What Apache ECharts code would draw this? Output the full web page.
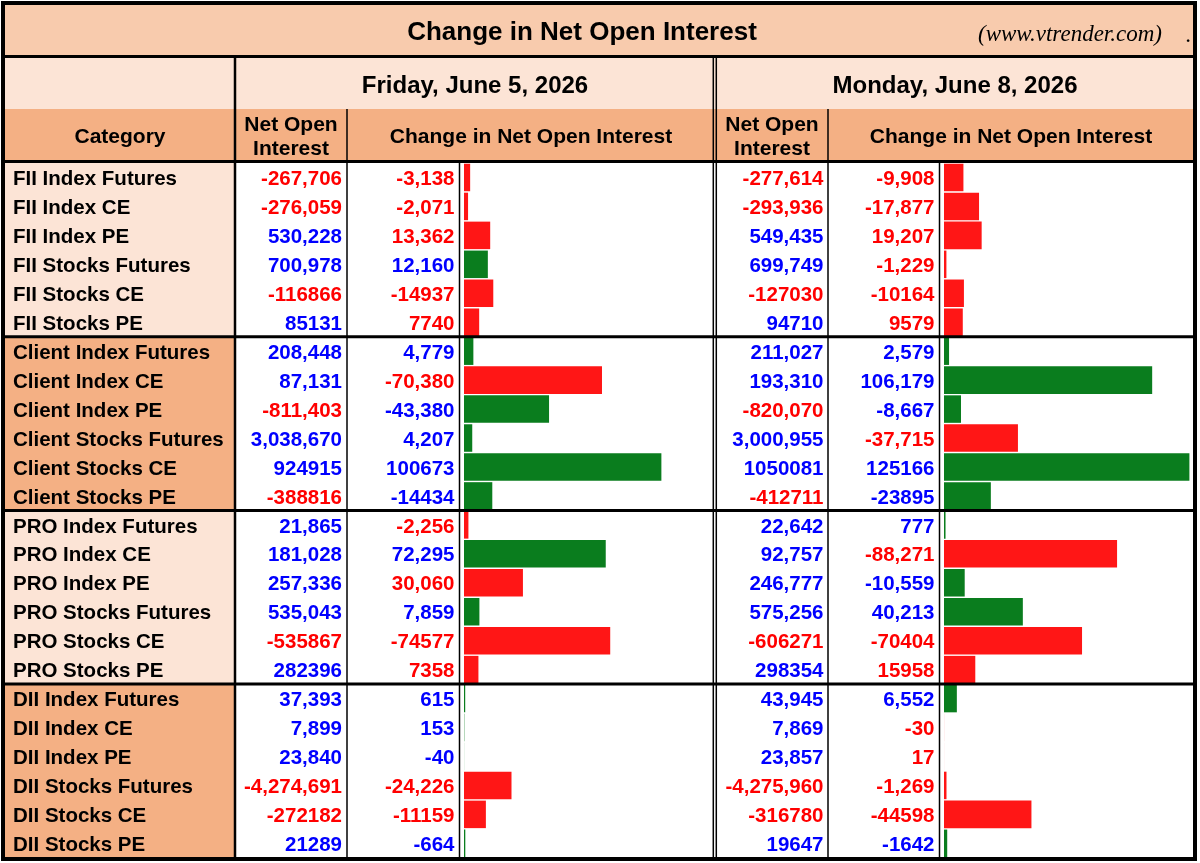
<!DOCTYPE html>
<html>
<head>
<meta charset="utf-8">
<title>Change in Net Open Interest</title>
<script src="https://cdn.jsdelivr.net/npm/echarts@6/dist/echarts.min.js"></script>
<style>
    html, body { margin: 0; padding: 0; background: #fff; }
    #chart { width: 1200px; height: 863px; }
</style>
</head>
<body>
<div id="chart"></div>
<script>
// 数据
var categories = [
    'FII Index Futures', 'FII Index CE', 'FII Index PE', 'FII Stocks Futures', 'FII Stocks CE', 'FII Stocks PE',
    'Client Index Futures', 'Client Index CE', 'Client Index PE', 'Client Stocks Futures', 'Client Stocks CE', 'Client Stocks PE',
    'PRO Index Futures', 'PRO Index CE', 'PRO Index PE', 'PRO Stocks Futures', 'PRO Stocks CE', 'PRO Stocks PE',
    'DII Index Futures', 'DII Index CE', 'DII Index PE', 'DII Stocks Futures', 'DII Stocks CE', 'DII Stocks PE'
];
var netOiFri = [-267706, -276059, 530228, 700978, -116866, 85131,
    208448, 87131, -811403, 3038670, 924915, -388816,
    21865, 181028, 257336, 535043, -535867, 282396,
    37393, 7899, 23840, -4274691, -272182, 21289];
var changeFri = [-3138, -2071, 13362, 12160, -14937, 7740,
    4779, -70380, -43380, 4207, 100673, -14434,
    -2256, 72295, 30060, 7859, -74577, 7358,
    615, 153, -40, -24226, -11159, -664];
var netOiMon = [-277614, -293936, 549435, 699749, -127030, 94710,
    211027, 193310, -820070, 3000955, 1050081, -412711,
    22642, 92757, 246777, 575256, -606271, 298354,
    43945, 7869, 23857, -4275960, -316780, 19647];
var changeMon = [-9908, -17877, 19207, -1229, -10164, 9579,
    2579, 106179, -8667, -37715, 125166, -23895,
    777, -88271, -10559, 40213, -70404, 15958,
    6552, -30, 17, -1269, -44598, -1642];
var dayLabels = ['Friday, June 5, 2026', 'Monday, June 8, 2026'];
var barMax = 127000;

(function () {
    var FONT = '"Liberation Sans", Arial, sans-serif';
    var RED = '#ff0000', BLUE = '#0000ff';
    var BAR_RED = '#ff1616', BAR_GREEN = '#0a7d1e';
    var LIGHT = '#fce4d6', MID = '#f8cbad', DARK = '#f4b084';
    var TOP = 163, ROW_H = 28.95, N = categories.length;
    var BOTTOM = TOP + ROW_H * N;

    // Stocks CE/PE 行不带千分位
    function fmt(v, i) {
        var s = String(Math.abs(v));
        if (!/Stocks (CE|PE)$/.test(categories[i])) {
            s = s.replace(/\B(?=(\d{3})+(?!\d))/g, ',');
        }
        return (v < 0 ? '-' : '') + s;
    }
    // PE 反向：减少为看涨
    function bullish(v, i) {
        return (/PE$/.test(categories[i]) ? -v : v) > 0;
    }

    var graphics = [];
    function rect(x, y, w, h, fill) {
        graphics.push({ type: 'rect', z: -10, shape: { x: x, y: y, width: w, height: h }, style: { fill: fill } });
    }
    function line(x1, y1, x2, y2, w) {
        graphics.push({ type: 'line', z: 100, shape: { x1: x1, y1: y1, x2: x2, y2: y2 }, style: { stroke: '#000', lineWidth: w } });
    }
    function text(t, x, y, size, opts) {
        opts = opts || {};
        graphics.push({
            type: 'text', z: 100,
            style: {
                text: t, x: x, y: y + 2,
                fontSize: size, fontWeight: opts.weight || 'bold', fontStyle: opts.style || 'normal',
                fontFamily: opts.family || FONT, fill: '#000',
                align: opts.align || 'center', verticalAlign: 'middle', lineHeight: opts.lineHeight
            }
        });
    }

    // 背景
    rect(5, 5, 1188, 50, MID);
    rect(5, 58, 1188, 51, LIGHT);
    rect(5, 109, 1188, 51, DARK);
    for (var g = 0; g < 4; g++) {
        rect(5, TOP + g * 6 * ROW_H, 229, 6 * ROW_H, g % 2 ? DARK : LIGHT);
    }

    // 表格线
    line(5, 56.5, 1193, 56.5, 3);
    line(5, 161.5, 1193, 161.5, 3);
    for (var k = 1; k < 4; k++) {
        line(5, TOP + k * 6 * ROW_H, 1193, TOP + k * 6 * ROW_H, 3);
    }
    line(235, 58, 235, BOTTOM, 2.5);
    line(713.3, 58, 713.3, BOTTOM, 1.5);
    line(716.3, 58, 716.3, BOTTOM, 1.5);
    line(347, 109, 347, BOTTOM, 1.5);
    line(828, 109, 828, BOTTOM, 1.5);
    line(459.5, TOP, 459.5, BOTTOM, 1.5);
    line(939.5, TOP, 939.5, BOTTOM, 1.5);
    graphics.push({ type: 'rect', z: 100, shape: { x: 3, y: 3, width: 1192, height: 856 }, style: { fill: 'none', stroke: '#000', lineWidth: 4 } });

    // 标题与表头
    text('Change in Net Open Interest', 582, 31, 26);
    text('(www.vtrender.com)', 1162, 33, 23, { weight: 'normal', style: 'italic', family: '"Liberation Serif", "Times New Roman", serif', align: 'right' });
    text('.', 1188, 34, 23, { weight: 'normal', family: '"Liberation Serif", serif' });
    text(dayLabels[0], 475, 84, 24);
    text(dayLabels[1], 955, 84, 24);
    text('Category', 120, 135, 21);
    text('Net Open\nInterest', 291, 135, 21, { lineHeight: 24 });
    text('Change in Net Open Interest', 531, 135, 21);
    text('Net Open\nInterest', 772, 135, 21, { lineHeight: 24 });
    text('Change in Net Open Interest', 1011, 135, 21);

    function labelAxis(gridIndex, offset, align, formatter, color) {
        return {
            type: 'category', gridIndex: gridIndex, data: categories, inverse: true,
            position: 'left', offset: offset,
            axisLine: { show: false }, axisTick: { show: false }, splitLine: { show: false },
            axisLabel: {
                interval: 0, margin: 0, align: align, color: color,
                formatter: function (v, i) { return '{v|' + (formatter ? formatter(v, i) : v) + '}'; },
                rich: { v: { padding: [4, 0, 0, 0], fontFamily: FONT, fontSize: 20.5, fontWeight: 'bold' } },
                fontFamily: FONT, fontSize: 20.5, fontWeight: 'bold'
            }
        };
    }
    function numAxis(gridIndex, offset, values, isChange) {
        return labelAxis(gridIndex, offset, 'right',
            function (v, i) { return fmt(values[i], i); },
            function (v, i) {
                if (isChange) return bullish(values[i], i) ? BLUE : RED;
                return values[i] < 0 ? RED : BLUE;
            });
    }
    function barData(values) {
        return values.map(function (v, i) {
            return { value: Math.abs(v), itemStyle: { color: bullish(v, i) ? BAR_GREEN : BAR_RED } };
        });
    }

    var myChart = echarts.init(document.getElementById('chart'));
    var option = {
        animation: false,
        backgroundColor: '#fff',
        grid: [
            { left: 464, top: TOP, width: 249, height: BOTTOM - TOP },
            { left: 944, top: TOP, width: 249, height: BOTTOM - TOP }
        ],
        xAxis: [
            { type: 'value', gridIndex: 0, min: 0, max: barMax, show: false },
            { type: 'value', gridIndex: 1, min: 0, max: barMax, show: false }
        ],
        yAxis: [
            labelAxis(0, 451, 'left', null, '#000'),
            numAxis(0, 122, netOiFri, false),
            numAxis(0, 9.5, changeFri, true),
            numAxis(1, 120.5, netOiMon, false),
            numAxis(1, 9.5, changeMon, true)
        ],
        series: [
            { type: 'bar', xAxisIndex: 0, yAxisIndex: 2, barCategoryGap: '5%', silent: true, data: barData(changeFri) },
            { type: 'bar', xAxisIndex: 1, yAxisIndex: 4, barCategoryGap: '5%', silent: true, data: barData(changeMon) }
        ],
        graphic: { elements: graphics }
    };
    myChart.setOption(option);
    window.addEventListener('resize', function () {
        myChart.resize();
    });
})();
</script>
</body>
</html>
